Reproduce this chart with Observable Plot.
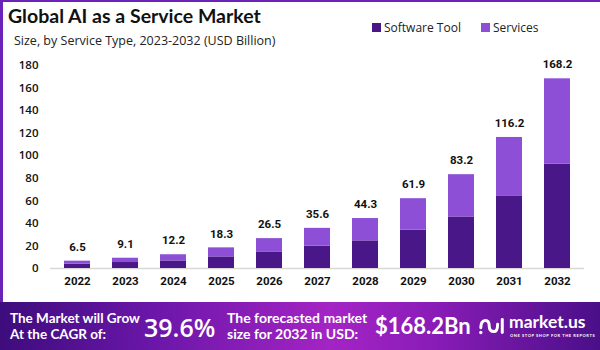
<!DOCTYPE html>
<html><head><meta charset="utf-8">
<script src="https://cdn.jsdelivr.net/npm/d3@7"></script>
<script src="https://cdn.jsdelivr.net/npm/@observablehq/plot@0.6"></script>
<style>
html,body{margin:0;padding:0;background:#fff;}
#wrap{position:relative;width:600px;height:350px;overflow:hidden;background:#fff;font-family:Lato,"Open Sans",sans-serif;}
#frame{position:absolute;left:0;top:0;width:600px;height:302px;box-sizing:border-box;border-left:3px solid #6b22b8;border-top:2px solid #6b22b8;}
#title{position:absolute;left:8px;top:4px;font:700 19.5px Lato,sans-serif;color:#111;}
#subtitle{position:absolute;left:14px;top:32px;font:400 12.5px "Open Sans",sans-serif;color:#222;}
#legend{position:absolute;left:372px;top:19px;font:400 12px "Open Sans",sans-serif;color:#222;display:flex;align-items:center;}
#legend .sw{display:inline-block;width:9px;height:9px;margin-right:3px;}
#legend .it{display:flex;align-items:center;margin-right:20px;}
#chart{position:absolute;left:0;top:50px;}
#footer{position:absolute;left:0;top:302px;width:600px;height:48px;background:linear-gradient(90deg,#3d0c7c 0%,#6a16a8 25%,#a424c4 55%,#8a1cb8 72%,#4a0f88 100%);color:#fff;}
.ft{position:absolute;font:700 13.5px Lato,sans-serif;line-height:16px;}
.big{position:absolute;}
</style></head>
<body>
<div id="wrap">
  <div id="frame"></div>
  <div id="title">Global AI as a Service Market</div>
  <div id="subtitle">Size, by Service Type, 2023-2032 (USD Billion)</div>
  <div id="legend"></div>
  <div id="chart"></div>
  <div id="footer">
    <div class="ft" style="left:10px;top:8px;">The Market will Grow<br>At the CAGR of:</div>
    <div class="big" style="left:144px;top:8px;font:600 25px 'Open Sans',sans-serif;">39.6%</div>
    <div class="ft" style="left:227px;top:8px;font-size:14px;">The forecasted market<br>size for 2032 in USD:</div>
    <div class="big" style="left:375px;top:10px;font:700 22px Lato,sans-serif;">$168.2Bn</div>
    <svg style="position:absolute;left:478px;top:12px;" width="28" height="24" viewBox="0 0 30 24">
      <path d="M3 14 Q3 6 8 6 Q12 6 12 12 Q12 18 17 18 Q21 18 21 10" fill="none" stroke="#fff" stroke-width="3.2" stroke-linecap="round"/>
      <line x1="26" y1="5" x2="26" y2="19" stroke="#fff" stroke-width="3.2" stroke-linecap="round"/>
      <circle cx="3" cy="19" r="1.8" fill="#fff"/>
    </svg>
    <div style="position:absolute;left:509px;top:9px;font:700 17.5px Lato,sans-serif;">market.us</div>
    <div style="position:absolute;left:510px;top:31px;font:700 4px Lato,sans-serif;letter-spacing:0.6px;">ONE STOP SHOP FOR THE REPORTS</div>
  </div>
</div>
<script>
const years = ["2022","2023","2024","2025","2026","2027","2028","2029","2030","2031","2032"];
const softwareTool = [3.8, 5.3, 6.7, 10.3, 14.7, 19.8, 24.5, 34.0, 45.7, 64.4, 92.5];
const services = [2.7, 3.8, 5.5, 8.0, 11.8, 15.8, 19.8, 27.9, 37.5, 51.8, 75.7];
const totals = [6.5, 9.1, 12.2, 18.3, 26.5, 35.6, 44.3, 61.9, 83.2, 116.2, 168.2];
const totalLabels = ["6.5","9.1","12.2","18.3","26.5","35.6","44.3","61.9","83.2","116.2","168.2"];
const seriesNames = ["Software Tool", "Services"];
const seriesColors = ["#4a1788", "#8c4fd5"];
const yTicks = [0,20,40,60,80,100,120,140,160,180];

const rows = [];
years.forEach((y, i) => {
  rows.push({year: y, series: seriesNames[0], value: softwareTool[i]});
  rows.push({year: y, series: seriesNames[1], value: services[i]});
});
const totalRows = years.map((y, i) => ({year: y, total: totals[i], label: totalLabels[i]}));

const leg = document.getElementById("legend");
seriesNames.forEach((n, i) => {
  const it = document.createElement("div"); it.className = "it";
  it.innerHTML = `<span class="sw" style="background:${seriesColors[i]}"></span>${n}`;
  leg.appendChild(it);
});

const chart = Plot.plot({
  width: 600, height: 250,
  marginLeft: 50, marginRight: 16, marginTop: 15, marginBottom: 32,
  style: {fontFamily: "'Open Sans', sans-serif", background: "transparent"},
  x: {domain: years, paddingInner: 0.45, paddingOuter: 0.2, label: null, tickSize: 0, tickPadding: 8},
  y: {domain: [0, 180], ticks: yTicks, label: null, tickSize: 0, tickPadding: 12},
  color: {domain: seriesNames, range: seriesColors},
  marks: [
    Plot.ruleY([0], {stroke: "#d8d8d8", strokeWidth: 1.5}),
    Plot.barY(rows, {x: "year", y: "value", fill: "series"}),
    Plot.text(totalRows, {x: "year", y: "total", text: "label", dy: -14, fontWeight: 700, fontSize: 11.5, fill: "#111", fontFamily: "Roboto, sans-serif"}),
    Plot.axisX({tickSize: 0, tickPadding: 8, fontWeight: 700, fontSize: 11.5, fill: "#111", label: null, fontFamily: "Roboto, sans-serif"}),
    Plot.axisY({ticks: yTicks, tickSize: 0, tickPadding: 12, fontSize: 11.5, fill: "#111", label: null, fontWeight: 600})
  ]
});
document.getElementById("chart").appendChild(chart);
</script>
</body></html>
